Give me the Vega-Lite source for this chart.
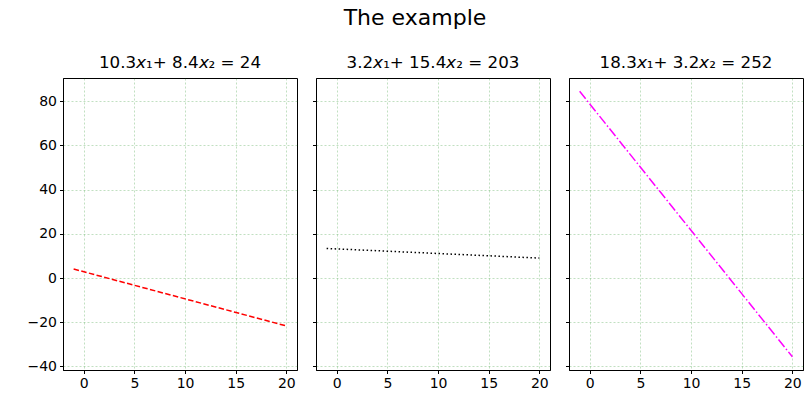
{
  "$schema": "https://vega.github.io/schema/vega-lite/v6.json",
  "padding": {"left": 26, "top": 6, "right": 5, "bottom": 3},
  "background": "white",
  "title": {"text": "The example", "fontSize": 22, "font": "DejaVu Sans", "fontWeight": "normal", "anchor": "middle", "offset": 25, "color": "black"},
  "datasets": {
    "p1": [{"x": -1, "y": 4.08}, {"x": 20, "y": -21.67}],
    "p2": [{"x": -1, "y": 13.39}, {"x": 20, "y": 9.03}],
    "p3": [{"x": -1, "y": 84.47}, {"x": 20, "y": -35.63}]
  },
  "config": {
    "font": "DejaVu Sans",
    "view": {"stroke": "black", "strokeWidth": 1},
    "axis": {"domainColor": "black", "tickColor": "black", "labelColor": "black", "labelFontSize": 14, "labelFont": "DejaVu Sans", "tickSize": 3.5, "labelPadding": 3, "gridColor": "green", "gridOpacity": 0.35, "gridDash": [2, 2], "gridWidth": 0.7},
    "concat": {"spacing": 13},
    "title": {"fontSize": 16.7, "fontWeight": "normal", "font": "DejaVu Sans", "color": "black", "offset": 6}
  },
  "hconcat": [
    {
      "width": 234, "height": 292,
      "title": "10.3𝘹₁+ 8.4𝘹₂ = 24",
      "data": {"name": "p1"},
      "mark": {"type": "line", "color": "#ff0000", "strokeWidth": 1.5, "strokeDash": [5.5, 2.4], "clip": true},
      "encoding": {
        "x": {"field": "x", "type": "quantitative", "scale": {"domain": [-2.05, 21.05], "nice": false, "zero": false}, "axis": {"values": [0, 5, 10, 15, 20], "title": null}},
        "y": {"field": "y", "type": "quantitative", "scale": {"domain": [-41.6, 90.5], "nice": false, "zero": false}, "axis": {"values": [-40, -20, 0, 20, 40, 60, 80], "title": null, "labelExpr": "replace(datum.label, '-', '−')"}}
      }
    },
    {
      "width": 234, "height": 292,
      "title": "3.2𝘹₁+ 15.4𝘹₂ = 203",
      "data": {"name": "p2"},
      "mark": {"type": "line", "color": "#000000", "strokeWidth": 1.5, "strokeDash": [1.5, 2.5], "clip": true},
      "encoding": {
        "x": {"field": "x", "type": "quantitative", "scale": {"domain": [-2.05, 21.05], "nice": false, "zero": false}, "axis": {"values": [0, 5, 10, 15, 20], "title": null}},
        "y": {"field": "y", "type": "quantitative", "scale": {"domain": [-41.6, 90.5], "nice": false, "zero": false}, "axis": {"values": [-40, -20, 0, 20, 40, 60, 80], "title": null, "labels": false}}
      }
    },
    {
      "width": 234, "height": 292,
      "title": "18.3𝘹₁+ 3.2𝘹₂ = 252",
      "data": {"name": "p3"},
      "mark": {"type": "line", "color": "#ff00ff", "strokeWidth": 1.5, "strokeDash": [9.6, 2.4, 1.5, 2.4], "clip": true},
      "encoding": {
        "x": {"field": "x", "type": "quantitative", "scale": {"domain": [-2.05, 21.05], "nice": false, "zero": false}, "axis": {"values": [0, 5, 10, 15, 20], "title": null}},
        "y": {"field": "y", "type": "quantitative", "scale": {"domain": [-41.6, 90.5], "nice": false, "zero": false}, "axis": {"values": [-40, -20, 0, 20, 40, 60, 80], "title": null, "labels": false}}
      }
    }
  ]
}
